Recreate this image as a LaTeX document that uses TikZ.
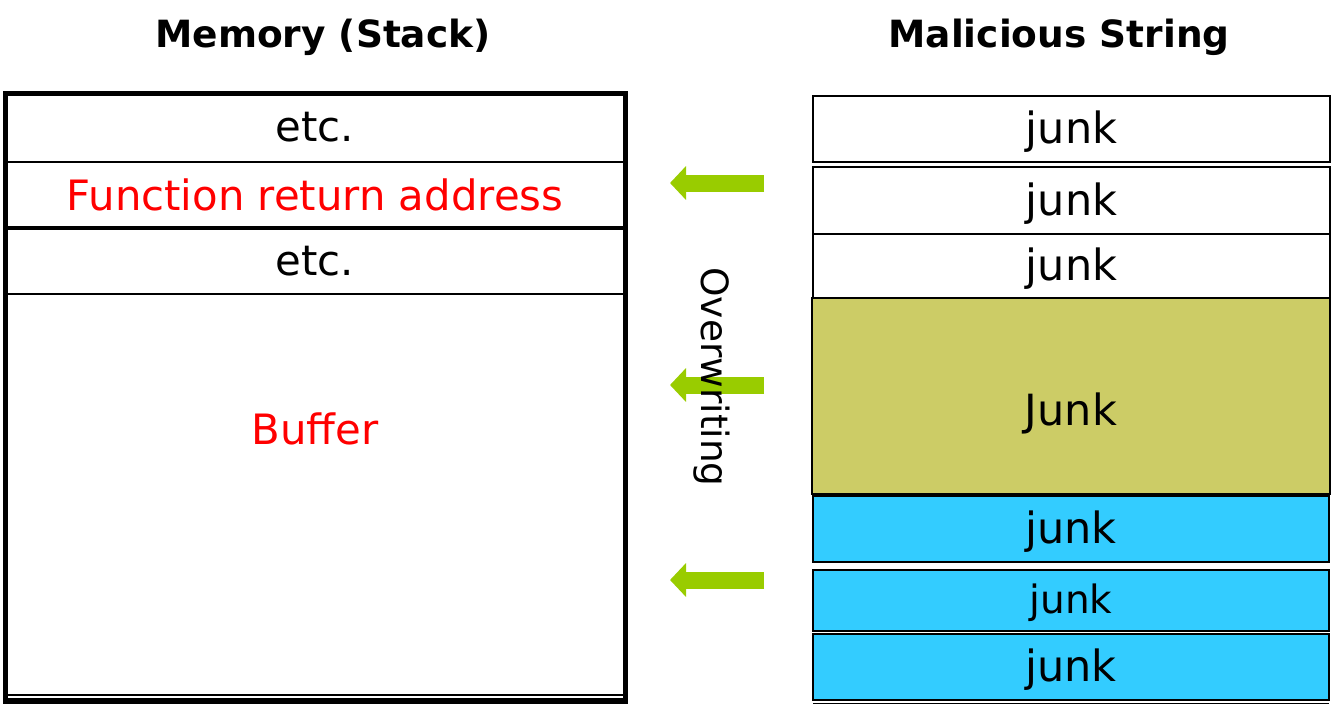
\documentclass[tikz,border=0pt]{standalone}
\usepackage{fontspec}
\setmainfont{DejaVu Sans}
\usetikzlibrary{arrows.meta, positioning}
\definecolor{verdeflecha}{HTML}{99CC00}
\definecolor{oliva}{HTML}{CCCC66}
\definecolor{celeste}{HTML}{33CCFF}

\begin{document}
\begin{tikzpicture}[
  x=1pt, y=-1pt,
  cell/.style={
    rectangle, draw=black, line width=2pt,
    outer sep=0pt, inner sep=0pt,
    minimum width=620pt,
    font=\fontsize{41.8}{48}\selectfont
  },
  junkcell/.style={
    rectangle, draw=black, line width=2pt,
    outer sep=0pt, inner sep=0pt, text depth=3pt,
    minimum width=517pt,
    font=\fontsize{43}{48}\selectfont
  },
  arr/.style={-{Triangle[length=16pt, width=33pt]}, color=verdeflecha,
              line width=17pt},
  titulo/.style={font=\fontsize{37.5}{44}\selectfont\bfseries}
]
  \useasboundingbox (0,0) rectangle (1340,720);

  % titles
  \node[titulo] (tmem) at (323,37)  {Memory (Stack)};
  \node[titulo] (tmal) at (1059,37) {Malicious String};

  % stack
  \node[cell, minimum height=69pt] (etcA) at (315,127.5) {etc.};
  \node[cell, minimum height=66pt, below=0pt of etcA, text=red] (retaddr)
    {Function return address};
  \node[cell, minimum height=66pt, below=0pt of retaddr] (etcB) {etc.};
  \node[cell, minimum height=401pt, below=0pt of etcB, line width=1.5pt] (buffer) {};
  \node[font=\fontsize{41.8}{48}\selectfont, text=red] (buflab) at (315,429) {Buffer};
  \draw[line width=3.5pt] (retaddr.south west) -- (retaddr.south east);
  \draw[line width=1pt] ([yshift=-3pt]buffer.south west) -- ([yshift=-3pt]buffer.south east);
  \draw[line width=5pt] (etcA.north west) rectangle ([yshift=-6pt]buffer.south east);

  % malicious string
  \node[junkcell, minimum height=66pt] (jA) at (1071.5,129)   {junk};
  \node[junkcell, minimum height=67pt] (jB) at (1071.5,200.5) {junk};
  \node[junkcell, minimum height=64pt, below=0pt of jB] (jC) {junk};
  \node[junkcell, fill=oliva, minimum width=518pt, minimum height=196pt]
    (jbig) at (1071,396) {};
  \node[font=\fontsize{43}{48}\selectfont] (jbiglab) at (1071,413) {Junk};
  \node[junkcell, fill=celeste, minimum width=516pt, minimum height=66pt]
    (cA) at (1071,529) {junk};
  \node[junkcell, fill=celeste, minimum width=516pt, minimum height=61pt,
        font=\fontsize{39}{46}\selectfont] (cB) at (1071,600.5) {junk};
  \node[junkcell, fill=celeste, minimum width=516pt, minimum height=66pt]
    (cC) at (1071,667) {junk};
  \draw[line width=1pt] ([yshift=-3pt]cC.south west) -- ([yshift=-3pt]cC.south east);

  % arrows
  \foreach \y/\n in {183/1, 385/2, 580/3} {
    \coordinate (ini\n) at (764,\y);
    \coordinate (fin\n) at (670,\y);
    \draw[arr] (ini\n) -- (fin\n);
  }
  \node[rotate=-90, font=\fontsize{37.5}{44}\selectfont] (over) at (712,377)
    {Overwriting};
\end{tikzpicture}
\end{document}
